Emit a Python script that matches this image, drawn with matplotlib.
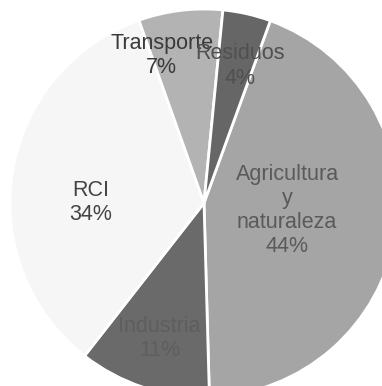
import numpy as np
import matplotlib.pyplot as plt

# Emission shares by sector (clockwise from the top-right boundary)
sectors = ["Agricultura\ny\nnaturaleza", "Industria", "RCI", "Transporte", "Residuos"]
shares = [44, 11, 34, 7, 4]

colors = ["#a5a5a5", "#6a6a6a", "#f6f6f6", "#b3b3b3", "#666666"]
text_colors = ["#5a5a5a", "#5e5e5e", "#444444", "#3a3a3a", "#505050"]
# label placement: (radius factor, angle shift in degrees) relative to wedge middle
label_pos = [(0.43, 4), (0.735, 0), (0.585, 9), (0.79, 9), (0.73, -2)]

fig = plt.figure(figsize=(3.82, 3.86), dpi=100)
ax = fig.add_axes([0, 0, 1, 1])

wedges, _ = ax.pie(shares, colors=colors, startangle=70, counterclock=False,
                   radius=1, center=(0, 0),
                   wedgeprops=dict(edgecolor="white", linewidth=2))

for w, name, val, tc, (rf, da) in zip(wedges, sectors, shares, text_colors, label_pos):
    mid = np.deg2rad((w.theta1 + w.theta2) / 2 + da)
    ax.text(rf * np.cos(mid), rf * np.sin(mid), f"{name}\n{val}%",
            ha="center", va="center", fontsize=15.5, color=tc,
            family="Liberation Sans", linespacing=1.2)

# pie centre sits at pixel (204, 203) with radius 194 px, cropped on right/bottom
ax.set_xlim(-204 / 194, (382 - 204) / 194)
ax.set_ylim(-(386 - 203) / 194, 203 / 194)
ax.set_aspect("auto")
ax.axis("off")

fig.savefig("out.png", dpi=100, facecolor="white")
